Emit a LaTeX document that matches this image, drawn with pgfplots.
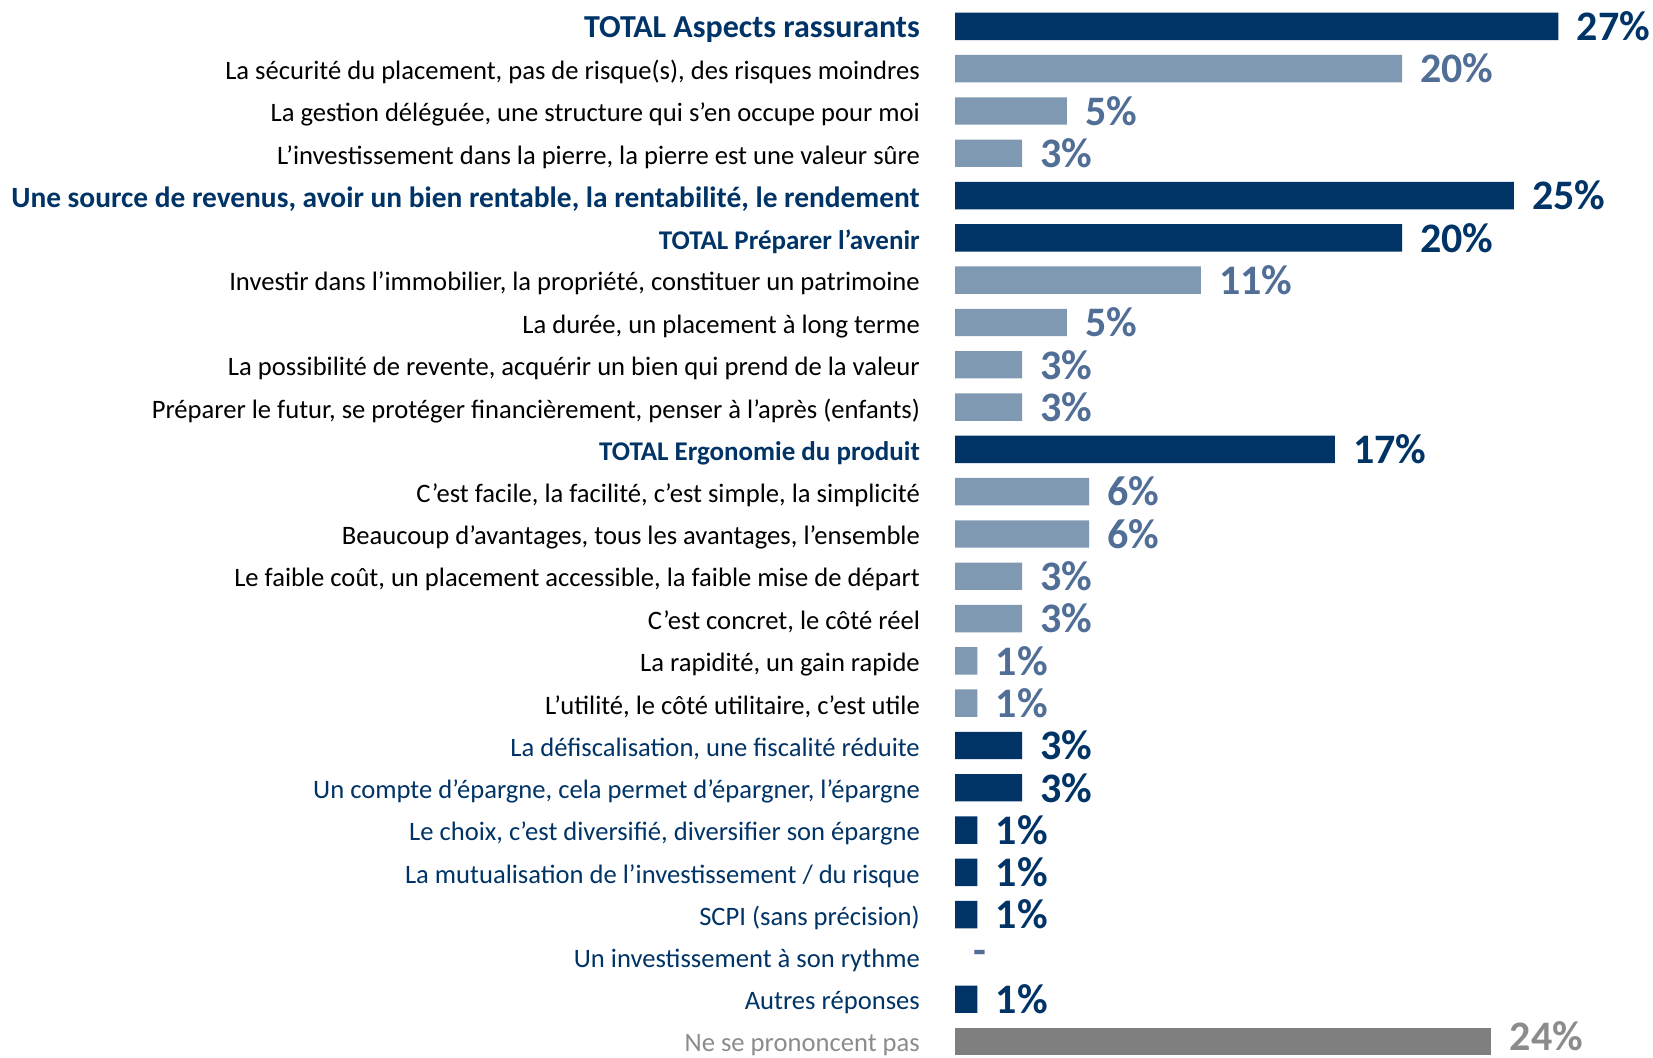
\documentclass[border=0pt]{standalone}
\usepackage{pgfplots}
\pgfplotsset{compat=1.18}
\usepackage{fontspec}
\setmainfont{Carlito}
\definecolor{navy}{RGB}{0,51,102}
\definecolor{lightbar}{RGB}{127,153,178}
\definecolor{lighttxt}{RGB}{80,110,150}
\definecolor{graybar}{RGB}{127,127,127}
\definecolor{graytxt}{RGB}{140,140,140}
\begin{document}
\begin{tikzpicture}
\useasboundingbox (0,0) rectangle (826.5pt,-529pt);
\begin{axis}[
  at={(477.5pt,-2.6pt)}, anchor=north west,
  x=11.175pt, y=21.15pt, y dir=reverse,
  xmin=0, xmax=31, ymin=-0.5, ymax=24.5,
  xbar, bar width=13.7pt, bar shift=0pt,
  axis line style={draw=none},
  xtick=\empty, ytick={0,...,24}, major tick length=0pt,
  yticklabels={
    {\fontsize{16}{18}\selectfont\bfseries\color{navy}TOTAL Aspects rassurants},
    {La sécurité du placement, pas de risque(s), des risques moindres},
    {La gestion déléguée, une structure qui s’en occupe pour moi},
    {L’investissement dans la pierre, la pierre est une valeur sûre},
    {\fontsize{14.7}{17}\selectfont\bfseries\color{navy}Une source de revenus, avoir un bien rentable, la rentabilité, le rendement},
    {\fontsize{13.5}{16}\selectfont\bfseries\color{navy}TOTAL Préparer l’avenir},
    {Investir dans l’immobilier, la propriété, constituer un patrimoine},
    {La durée, un placement à long terme},
    {La possibilité de revente, acquérir un bien qui prend de la valeur},
    {Préparer le futur, se protéger financièrement, penser à l’après (enfants)},
    {\fontsize{13.5}{16}\selectfont\bfseries\color{navy}TOTAL Ergonomie du produit},
    {C’est facile, la facilité, c’est simple, la simplicité},
    {Beaucoup d’avantages, tous les avantages, l’ensemble},
    {Le faible coût, un placement accessible, la faible mise de départ},
    {C’est concret, le côté réel},
    {La rapidité, un gain rapide},
    {L’utilité, le côté utilitaire, c’est utile},
    {\color{navy}La défiscalisation, une fiscalité réduite},
    {\color{navy}Un compte d’épargne, cela permet d’épargner, l’épargne},
    {\color{navy}Le choix, c’est diversifié, diversifier son épargne},
    {\color{navy}La mutualisation de l’investissement / du risque},
    {\color{navy}SCPI (sans précision)},
    {\color{navy}Un investissement à son rythme},
    {\color{navy}Autres réponses},
    {\color{graytxt}Ne se prononcent pas}
  },
  yticklabel style={anchor=east, inner sep=0pt, xshift=-17.4pt, yshift=-1.8pt, font=\fontsize{13.3}{16}\selectfont},
  nodes near coords={\pgfmathprintnumber{\pgfplotspointmeta}\%},
  nodes near coords align={horizontal},
  every node near coord/.append style={font=\fontsize{21}{24}\selectfont\bfseries, anchor=west, inner sep=0pt, xshift=9.0pt},
  /pgf/number format/assume math mode=true,
  clip=false,
]
\addplot[fill=navy, draw=none, every node near coord/.append style={text=navy}] coordinates {
  (27,0) (25,4) (20,5) (17,10) (3,17) (3,18) (1,19) (1,20) (1,21) (1,23)};
\addplot[fill=lightbar, draw=none, every node near coord/.append style={text=lighttxt}] coordinates {
  (20,1) (5,2) (3,3) (11,6) (5,7) (3,8) (3,9) (6,11) (6,12) (3,13) (3,14) (1,15) (1,16)};
\addplot[fill=none, draw=none, nodes near coords={-}, every node near coord/.append style={text=lighttxt}] coordinates {(0,22)};
\addplot[fill=graybar, draw=none, every node near coord/.append style={text=graytxt, yshift=2.6pt}] coordinates {(24,24)};
\end{axis}
\end{tikzpicture}
\end{document}
